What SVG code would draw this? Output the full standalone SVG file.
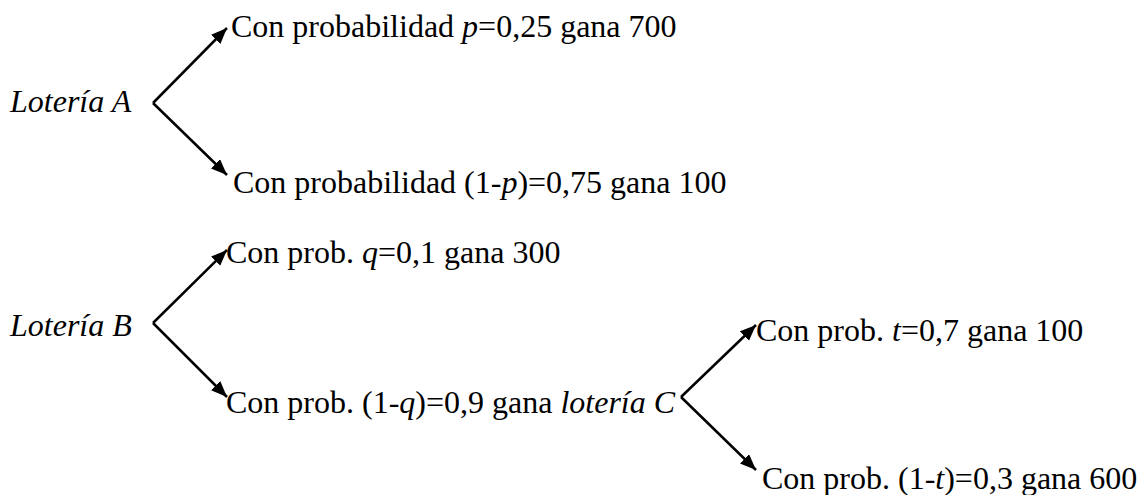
<svg xmlns="http://www.w3.org/2000/svg" width="1141" height="495" viewBox="0 0 1141 495" font-family="'Liberation Serif', 'Times New Roman', 'DejaVu Serif', serif">
<style>
  .t { font-family: 'Liberation Serif', 'Times New Roman', 'DejaVu Serif', serif; font-size: 32px; fill: #000; }
  .i { font-style: italic; }
  .edge { stroke: #000; stroke-width: 2.5; fill: none; marker-end: url(#arr); }
</style>
<defs>
  <marker id="arr" markerUnits="userSpaceOnUse" markerWidth="18" markerHeight="14" refX="16" refY="6.5" orient="auto">
    <path d="M0,0 L16,6.5 L0,13 Z" fill="#000"/>
  </marker>
</defs>
<rect width="1141" height="495" fill="#fff"/>
<g id="connectors">
  <line class="edge" x1="153" y1="103" x2="227" y2="28"/>
  <line class="edge" x1="153" y1="103" x2="227" y2="175"/>
  <line class="edge" x1="153" y1="323" x2="227" y2="250"/>
  <line class="edge" x1="153" y1="323" x2="227" y2="397"/>
  <line class="edge" x1="681" y1="397" x2="756" y2="325"/>
  <line class="edge" x1="681" y1="397" x2="756" y2="470"/>
</g>
<g id="loteria-a"><text class="t i" x="10" y="112">Lotería A</text></g>
<g id="a-p"><text class="t" x="231" y="37">Con probabilidad <tspan class="i">p</tspan>=0,25 gana 700</text></g>
<g id="a-1p"><text class="t" x="233" y="193">Con probabilidad (1-<tspan class="i">p</tspan>)=0,75 gana 100</text></g>
<g id="loteria-b"><text class="t i" x="10" y="336">Lotería B</text></g>
<g id="b-q"><text class="t" x="226" y="263">Con prob. <tspan class="i">q</tspan>=0,1 gana 300</text></g>
<g id="b-1q"><text class="t" x="226" y="413">Con prob. (1-<tspan class="i">q</tspan>)=0,9 gana <tspan class="i">lotería C</tspan></text></g>
<g id="c-t"><text class="t" x="756" y="341">Con prob. <tspan class="i">t</tspan>=0,7 gana 100</text></g>
<g id="c-1t"><text class="t" x="762" y="489">Con prob. (1-<tspan class="i">t</tspan>)=0,3 gana 600</text></g>
</svg>
